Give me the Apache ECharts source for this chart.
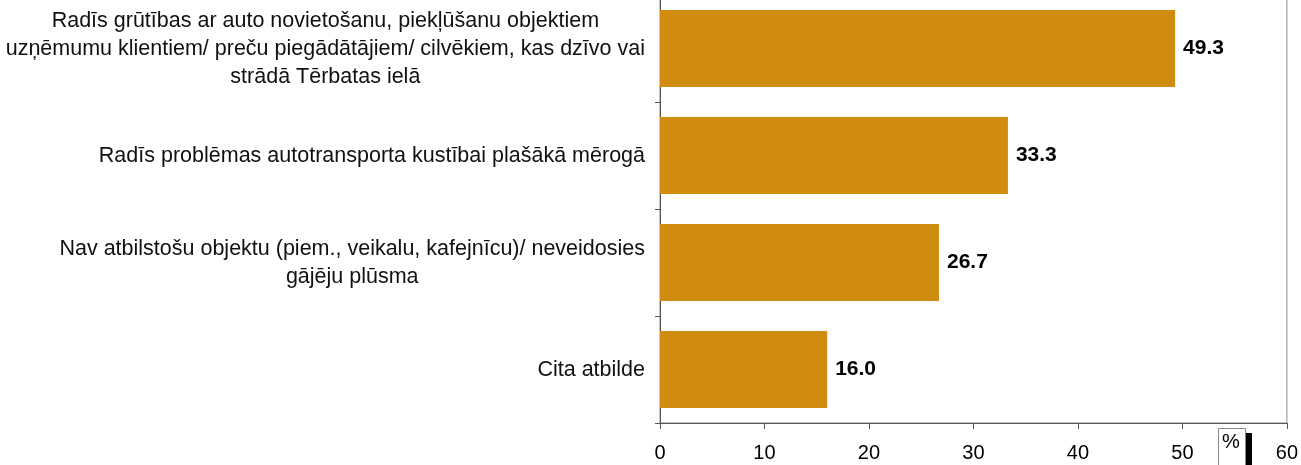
<!DOCTYPE html>
<html><head><meta charset="utf-8">
<script src="https://cdn.jsdelivr.net/npm/echarts@6/dist/echarts.min.js"></script>
<style>html,body{margin:0;padding:0;background:#fff;overflow:hidden}#c{width:1301px;height:470px;position:relative;top:-5px}</style>
</head><body><div id="c"></div>
<script>
const categories = [
  "Cita atbilde",
  "Nav atbilstošu objektu (piem., veikalu, kafejnīcu)/ neveidosies\ngājēju plūsma",
  "Radīs problēmas autotransporta kustībai plašākā mērogā",
  "Radīs grūtības ar auto novietošanu, piekļūšanu objektiem\nuzņēmumu klientiem/ preču piegādātājiem/ cilvēkiem, kas dzīvo vai\nstrādā Tērbatas ielā"
];
const values = [16.0, 26.7, 33.3, 49.3];
const xTicks = { min: 0, max: 60, interval: 10 };
const unitLabel = "%";

const chart = echarts.init(document.getElementById('c'), null, {renderer: 'canvas'});
const font = '"Liberation Sans", Arial, sans-serif';
chart.setOption({
  animation: false,
  grid: { left: 660, right: 13, top: 0, bottom: 42, show: true, borderColor: '#8a8a8a', borderWidth: 1, backgroundColor: 'transparent' },
  xAxis: {
    type: 'value', min: xTicks.min, max: xTicks.max, interval: xTicks.interval,
    axisLine: { show: true, lineStyle: { color: '#555', width: 1 } },
    axisTick: { show: true, length: 6, lineStyle: { color: '#555' } },
    splitLine: { show: false },
    axisLabel: { color: '#000', fontFamily: font, fontSize: 20, margin: 20 }
  },
  yAxis: {
    type: 'category', data: categories,
    axisLine: { show: true, lineStyle: { color: '#555', width: 1 } },
    axisTick: { show: true, length: 5, lineStyle: { color: '#555' } },
    axisLabel: {
      margin: 15, align: 'right',
      formatter: v => v.split('\n').map(l => '{c|' + l + '}').join('\n'),
      rich: { c: { color: '#111', fontFamily: font, fontSize: 21.5, lineHeight: 28, align: 'center', padding: [2, 0, 0, 0] } }
    }
  },
  series: [{
    type: 'bar', data: values, barCategoryGap: '28%',
    itemStyle: { color: '#D08C0E' },
    label: { show: true, position: 'right', distance: 8, color: '#000', fontFamily: font, fontSize: 21, fontWeight: 'bold',
      formatter: p => p.value.toFixed(1) }
  }],
  graphic: [
    { type: 'rect', left: 1245, top: 438, shape: { width: 7, height: 40 }, style: { fill: '#000' } },
    { type: 'rect', left: 1218, top: 433, shape: { width: 27, height: 40 }, style: { fill: '#fff', stroke: '#888', lineWidth: 1 } },
    { type: 'text', left: 1222, top: 437, style: { text: unitLabel, fontFamily: font, fontSize: 20, fill: '#000' } }
  ]
});
</script></body></html>
